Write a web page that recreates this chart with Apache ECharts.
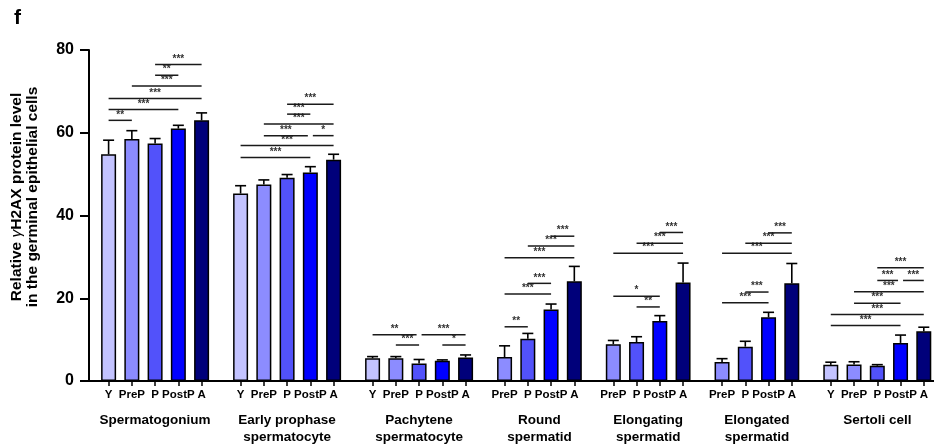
<!DOCTYPE html>
<html>
<head>
<meta charset="utf-8">
<script src="https://cdn.jsdelivr.net/npm/echarts@6/dist/echarts.min.js"></script>
<style>
  html, body { margin: 0; padding: 0; background: #ffffff; }
  #chart { width: 934px; height: 446px; }
</style>
</head>
<body>
<div id="chart"></div>
<script>
// Age stages, shared by every cell type
const levels = ['Y', 'PreP', 'P', 'PostP', 'A'];
const levelColors = ['#C3C3FF', '#8C8CFF', '#5252FA', '#0000FF', '#00007A'];

// Cell types along the x axis
const groupNames = [
  'Spermatogonium',
  'Early prophase\nspermatocyte',
  'Pachytene\nspermatocyte',
  'Round\nspermatid',
  'Elongating\nspermatid',
  'Elongated\nspermatid',
  'Sertoli cell'
];
const fullStages = ['Y', 'PreP', 'P', 'PostP', 'A'];
const lateStages = ['PreP', 'P', 'PostP', 'A'];
const groupStages = [fullStages, fullStages, fullStages, lateStages, lateStages, lateStages, fullStages];

// Relative γH2AX level (mean) and error per stage
const spermatogoniumMean = [54.8, 58.5, 57.4, 61.0, 63.0];
const spermatogoniumErr  = [3.4, 2.0, 1.2, 0.8, 1.8];
const earlyProphaseMean  = [45.3, 47.5, 49.1, 50.4, 53.5];
const earlyProphaseErr   = [1.9, 1.1, 0.8, 1.4, 1.3];
const pachyteneMean      = [5.5, 5.5, 4.2, 4.9, 5.7];
const pachyteneErr       = [0.4, 0.4, 1.0, 0.2, 0.6];
const roundMean          = [5.8, 10.2, 17.3, 24.1];
const roundErr           = [2.7, 1.3, 1.3, 3.6];
const elongatingMean     = [8.9, 9.4, 14.5, 23.8];
const elongatingErr      = [0.9, 1.3, 1.3, 4.7];
const elongatedMean      = [4.6, 8.3, 15.4, 23.6];
const elongatedErr       = [0.8, 1.3, 1.2, 4.8];
const sertoliMean        = [3.9, 4.0, 3.7, 9.2, 12.0];
const sertoliErr         = [0.65, 0.65, 0.25, 1.9, 1.0];

const groupMeans = [spermatogoniumMean, earlyProphaseMean, pachyteneMean, roundMean, elongatingMean, elongatedMean, sertoliMean];
const groupErrs  = [spermatogoniumErr, earlyProphaseErr, pachyteneErr, roundErr, elongatingErr, elongatedErr, sertoliErr];

// Significance brackets: [from stage, to stage, height, stars]
const spermatogoniumSig = [['Y','PreP',63.0,'**'], ['Y','PostP',65.6,'***'], ['Y','A',68.3,'***'], ['PreP','A',71.3,'***'], ['P','PostP',73.9,'**'], ['P','A',76.5,'***']];
const earlyProphaseSig  = [['Y','PostP',54.0,'***'], ['Y','A',56.9,'***'], ['PreP','PostP',59.3,'***'], ['PostP','A',59.3,'*'], ['PreP','A',62.1,'***'], ['P','PostP',64.5,'***'], ['P','A',66.9,'***']];
const pachyteneSig      = [['PreP','P',8.7,'***'], ['PostP','A',8.7,'*'], ['Y','P',11.2,'**'], ['P','A',11.2,'***']];
const roundSig          = [['PreP','P',13.1,'**'], ['PreP','PostP',21.0,'***'], ['P','PostP',23.6,'***'], ['PreP','A',29.8,'***'], ['P','A',32.6,'***'], ['PostP','A',35.0,'***']];
const elongatingSig     = [['P','PostP',17.9,'**'], ['PreP','PostP',20.5,'*'], ['PreP','A',30.9,'***'], ['P','A',33.3,'***'], ['PostP','A',35.9,'***']];
const elongatedSig      = [['PreP','PostP',18.9,'***'], ['P','PostP',21.5,'***'], ['PreP','A',30.9,'***'], ['P','A',33.3,'***'], ['PostP','A',35.8,'***']];
const sertoliSig        = [['Y','PostP',13.4,'***'], ['Y','A',16.1,'***'], ['PreP','PostP',18.8,'***'], ['PreP','A',21.6,'***'], ['P','PostP',24.3,'***'], ['PostP','A',24.3,'***'], ['P','A',27.4,'***']];
const groupSigs = [spermatogoniumSig, earlyProphaseSig, pachyteneSig, roundSig, elongatingSig, elongatedSig, sertoliSig];

// Y axis ticks
const yMin = 0, yMax = 80, yStep = 20;

// ---- layout (x axis runs in "bar slot" units) ----
const GROUP_GAP = 1.677;      // slots between last bar of a group and first bar of the next
const SLOT_PX = 23.25;
const GRID = { left: 89, right: 0, top: 50, bottom: 64 };
const CHART_W = 934;
const FIRST_OFFSET_PX = 19.6;
const xMin = -FIRST_OFFSET_PX / SLOT_PX;
const xMax = xMin + (CHART_W - GRID.left - GRID.right) / SLOT_PX;

const groupStart = [];
let cursor = 0;
groupStages.forEach((st, g) => {
  groupStart.push(cursor);
  cursor += (st.length - 1) + GROUP_GAP;
});
const xOf = (g, stage) => groupStart[g] + groupStages[g].indexOf(stage);
const groupCenter = g => groupStart[g] + (groupStages[g].length - 1) / 2;

// tick label lookup
const key = v => Number(v).toFixed(3);
const tickLabel = {};
const tickValues = [];
groupStages.forEach((st, g) => st.forEach(s => {
  const x = xOf(g, s);
  tickValues.push(x);
  tickLabel[key(x)] = s;
}));
const groupLabel = {};
const groupValues = groupNames.map((n, g) => {
  const c = groupCenter(g);
  groupLabel[key(c)] = n;
  return c;
});

// bar series, one per stage
const barSeries = levels.map((lv, li) => {
  const data = [];
  groupStages.forEach((st, g) => {
    const i = st.indexOf(lv);
    if (i >= 0) data.push([xOf(g, lv), groupMeans[g][i]]);
  });
  return {
    type: 'bar', name: lv, data,
    barWidth: 15, barGap: '-100%',
    itemStyle: { color: levelColors[li], borderColor: '#000', borderWidth: 1.5 },
    z: 2
  };
});

// error bars (upper whisker only)
const errData = [];
groupStages.forEach((st, g) => st.forEach((s, i) => {
  errData.push([xOf(g, s), groupMeans[g][i], groupErrs[g][i]]);
}));

// brackets
const bracketData = [];
const bracketStars = [];
const SHRINK = 2.5 / SLOT_PX;
groupSigs.forEach((list, g) => {
  list.forEach(b => {
    let x1 = xOf(g, b[0]), x2 = xOf(g, b[1]);
    // brackets sharing a level and an endpoint are pulled apart slightly
    list.forEach(o => {
      if (o === b || o[2] !== b[2]) return;
      if (o[0] === b[1]) x2 -= SHRINK;
      if (o[1] === b[0]) x1 += SHRINK;
    });
    bracketData.push([x1, x2, b[2]]);
    bracketStars.push(b[3]);
  });
});

const FONT = '"Liberation Sans", Arial, Helvetica, sans-serif';

const option = {
  animation: false,
  backgroundColor: '#ffffff',
  title: {
    text: 'f', left: 9, top: 3,
    textStyle: { fontFamily: FONT, fontWeight: 'bold', fontSize: 21, color: '#000' }
  },
  grid: { left: GRID.left, right: GRID.right, top: GRID.top, bottom: GRID.bottom, containLabel: false },
  xAxis: [
    {
      type: 'value', min: xMin, max: xMax, position: 'bottom',
      axisLine: { show: true, onZero: false, lineStyle: { color: '#000', width: 2 } },
      axisTick: { show: true, customValues: tickValues, length: 5, lineStyle: { color: '#000', width: 1.5 } },
      axisLabel: {
        show: true, customValues: tickValues, margin: 8,
        formatter: v => tickLabel[key(v)] || '',
        fontFamily: FONT, fontWeight: 'bold', fontSize: 11.5, color: '#000'
      },
      splitLine: { show: false }
    },
    {
      type: 'value', min: xMin, max: xMax, position: 'bottom', gridIndex: 0,
      axisLine: { show: false, onZero: false }, axisTick: { show: false },
      axisLabel: {
        show: true, customValues: groupValues, margin: 31,
        formatter: v => groupLabel[key(v)] || '',
        fontFamily: FONT, fontWeight: 'bold', fontSize: 13.5, lineHeight: 17, color: '#000'
      },
      splitLine: { show: false }
    }
  ],
  yAxis: {
    type: 'value', min: yMin, max: yMax, interval: yStep, position: 'left',
    axisLine: { show: true, onZero: false, lineStyle: { color: '#000', width: 2 } },
    axisTick: { show: true, inside: false, length: 9, lineStyle: { color: '#000', width: 2 } },
    axisLabel: { margin: 15, fontFamily: FONT, fontWeight: 'bold', fontSize: 16, color: '#000' },
    splitLine: { show: false }
  },
  graphic: [{
    type: 'text',
    x: 25, y: 197,
    rotation: Math.PI / 2,
    style: {
      text: '{b|Relative }{g|γ}{b|H2AX protein level}\n{b|in the germinal epithelial cells}',
      align: 'center', verticalAlign: 'middle',
      rich: {
        b: { fontFamily: FONT, fontWeight: 'bold', fontSize: 15.5, lineHeight: 16, fill: '#000' },
        g: { fontFamily: FONT, fontStyle: 'italic', fontSize: 15.5, lineHeight: 16, fill: '#000' }
      }
    }
  }],
  series: [
    ...barSeries,
    {
      type: 'custom', name: 'error',
      data: errData,
      encode: { x: 0, y: 1 },
      z: 3,
      renderItem: (params, api) => {
        const x = api.value(0), m = api.value(1), e = api.value(2);
        const p0 = api.coord([x, m]);
        const p1 = api.coord([x, m + e]);
        const cap = 5.5;
        return {
          type: 'group',
          children: [
            { type: 'line', shape: { x1: p0[0], y1: p0[1], x2: p1[0], y2: p1[1] }, style: { stroke: '#000', lineWidth: 1.6 } },
            { type: 'line', shape: { x1: p1[0] - cap, y1: p1[1], x2: p1[0] + cap, y2: p1[1] }, style: { stroke: '#000', lineWidth: 1.6 } }
          ]
        };
      }
    },
    {
      type: 'custom', name: 'significance',
      data: bracketData,
      encode: { x: [0, 1], y: 2 },
      z: 4,
      renderItem: (params, api) => {
        const a = api.coord([api.value(0), api.value(2)]);
        const b = api.coord([api.value(1), api.value(2)]);
        return {
          type: 'group',
          children: [
            { type: 'line', shape: { x1: a[0], y1: a[1], x2: b[0], y2: b[1] }, style: { stroke: '#1a1a1a', lineWidth: 1.5 } },
            {
              type: 'text',
              style: {
                text: bracketStars[params.dataIndex],
                x: (a[0] + b[0]) / 2, y: a[1] - 0.5,
                align: 'center', verticalAlign: 'bottom',
                fontFamily: FONT, fontWeight: 'bold', fontSize: 10, fill: '#333'
              }
            }
          ]
        };
      }
    }
  ]
};

const chart = echarts.init(document.getElementById('chart'), null, { renderer: 'canvas' });
chart.setOption(option);
</script>
</body>
</html>
